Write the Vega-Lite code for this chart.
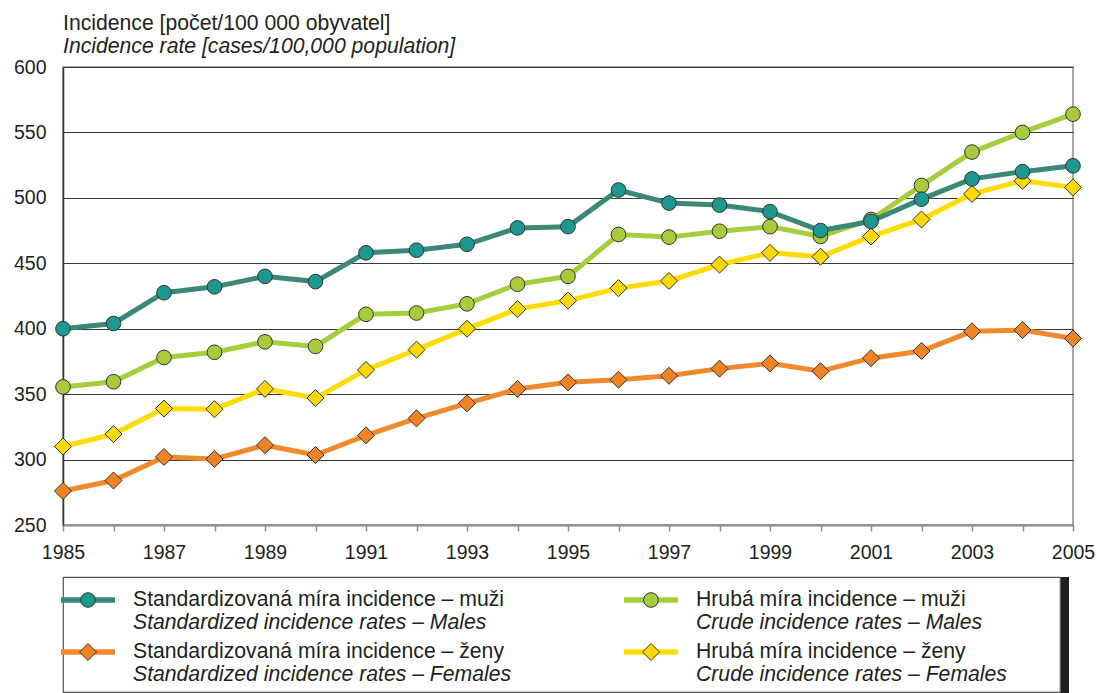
{
  "$schema": "https://vega.github.io/schema/vega-lite/v6.json",
  "padding": {"top": 11, "left": 12, "right": 3, "bottom": 0},
  "background": "white",
  "config": {
    "font": "Liberation Sans",
    "view": {"stroke": null},
    "concat": {"spacing": 13}
  },
  "datasets": {
    "series": [
      {"year": 1985, "key": "SF", "value": 276}, {"year": 1986, "key": "SF", "value": 284}, {"year": 1987, "key": "SF", "value": 302}, {"year": 1988, "key": "SF", "value": 300.5}, {"year": 1989, "key": "SF", "value": 311}, {"year": 1990, "key": "SF", "value": 303.5}, {"year": 1991, "key": "SF", "value": 318.5}, {"year": 1992, "key": "SF", "value": 331.5}, {"year": 1993, "key": "SF", "value": 343}, {"year": 1994, "key": "SF", "value": 354}, {"year": 1995, "key": "SF", "value": 359}, {"year": 1996, "key": "SF", "value": 361}, {"year": 1997, "key": "SF", "value": 364}, {"year": 1998, "key": "SF", "value": 369.5}, {"year": 1999, "key": "SF", "value": 373.5}, {"year": 2000, "key": "SF", "value": 367.5}, {"year": 2001, "key": "SF", "value": 377.5}, {"year": 2002, "key": "SF", "value": 383}, {"year": 2003, "key": "SF", "value": 398}, {"year": 2004, "key": "SF", "value": 399}, {"year": 2005, "key": "SF", "value": 392.5},
      {"year": 1985, "key": "CF", "value": 310}, {"year": 1986, "key": "CF", "value": 319.5}, {"year": 1987, "key": "CF", "value": 339}, {"year": 1988, "key": "CF", "value": 338.5}, {"year": 1989, "key": "CF", "value": 354}, {"year": 1990, "key": "CF", "value": 347}, {"year": 1991, "key": "CF", "value": 368.5}, {"year": 1992, "key": "CF", "value": 384}, {"year": 1993, "key": "CF", "value": 400}, {"year": 1994, "key": "CF", "value": 415}, {"year": 1995, "key": "CF", "value": 421.5}, {"year": 1996, "key": "CF", "value": 431}, {"year": 1997, "key": "CF", "value": 436.5}, {"year": 1998, "key": "CF", "value": 449}, {"year": 1999, "key": "CF", "value": 458}, {"year": 2000, "key": "CF", "value": 455}, {"year": 2001, "key": "CF", "value": 470.5}, {"year": 2002, "key": "CF", "value": 483.5}, {"year": 2003, "key": "CF", "value": 503}, {"year": 2004, "key": "CF", "value": 513}, {"year": 2005, "key": "CF", "value": 508},
      {"year": 1985, "key": "CM", "value": 355.5}, {"year": 1986, "key": "CM", "value": 359.5}, {"year": 1987, "key": "CM", "value": 378}, {"year": 1988, "key": "CM", "value": 382}, {"year": 1989, "key": "CM", "value": 390}, {"year": 1990, "key": "CM", "value": 386.5}, {"year": 1991, "key": "CM", "value": 411}, {"year": 1992, "key": "CM", "value": 412}, {"year": 1993, "key": "CM", "value": 419}, {"year": 1994, "key": "CM", "value": 434}, {"year": 1995, "key": "CM", "value": 440}, {"year": 1996, "key": "CM", "value": 472}, {"year": 1997, "key": "CM", "value": 470}, {"year": 1998, "key": "CM", "value": 474.5}, {"year": 1999, "key": "CM", "value": 478}, {"year": 2000, "key": "CM", "value": 470.5}, {"year": 2001, "key": "CM", "value": 483.5}, {"year": 2002, "key": "CM", "value": 509.5}, {"year": 2003, "key": "CM", "value": 535}, {"year": 2004, "key": "CM", "value": 550}, {"year": 2005, "key": "CM", "value": 564},
      {"year": 1985, "key": "SM", "value": 400}, {"year": 1986, "key": "SM", "value": 404}, {"year": 1987, "key": "SM", "value": 427.5}, {"year": 1988, "key": "SM", "value": 432}, {"year": 1989, "key": "SM", "value": 440}, {"year": 1990, "key": "SM", "value": 436}, {"year": 1991, "key": "SM", "value": 458}, {"year": 1992, "key": "SM", "value": 460}, {"year": 1993, "key": "SM", "value": 464.5}, {"year": 1994, "key": "SM", "value": 477}, {"year": 1995, "key": "SM", "value": 478}, {"year": 1996, "key": "SM", "value": 506}, {"year": 1997, "key": "SM", "value": 496}, {"year": 1998, "key": "SM", "value": 494.5}, {"year": 1999, "key": "SM", "value": 489.5}, {"year": 2000, "key": "SM", "value": 475}, {"year": 2001, "key": "SM", "value": 482}, {"year": 2002, "key": "SM", "value": 499}, {"year": 2003, "key": "SM", "value": 514.5}, {"year": 2004, "key": "SM", "value": 520}, {"year": 2005, "key": "SM", "value": 524.5}
    ],
    "legend": [
      {"key": "SM", "col": "a", "row": "r1", "line1": "Standardizovaná míra incidence – muži", "line2": "Standardized incidence rates – Males"},
      {"key": "SF", "col": "a", "row": "r2", "line1": "Standardizovaná míra incidence – ženy", "line2": "Standardized incidence rates – Females"},
      {"key": "CM", "col": "b", "row": "r1", "line1": "Hrubá míra incidence – muži", "line2": "Crude incidence rates – Males"},
      {"key": "CF", "col": "b", "row": "r2", "line1": "Hrubá míra incidence – ženy", "line2": "Crude incidence rates – Females"}
    ]
  },
  "vconcat": [
    {
      "title": {
        "text": "Incidence [počet/100 000 obyvatel]",
        "subtitle": "Incidence rate [cases/100,000 population]",
        "anchor": "start",
        "frame": "group",
        "offset": 0,
        "font": "Liberation Sans",
        "fontSize": 21.2,
        "fontWeight": "normal",
        "color": "#231f20",
        "subtitleFont": "Liberation Sans",
        "subtitleFontSize": 21.2,
        "subtitleFontStyle": "italic",
        "subtitleColor": "#231f20",
        "subtitlePadding": 2
      },
      "width": 1010,
      "height": 458,
      "view": {"stroke": "#8c8c8c", "strokeWidth": 1.5},
      "data": {"name": "series"},
      "encoding": {
        "x": {
          "field": "year", "type": "quantitative",
          "scale": {"domain": [1985, 2005], "nice": false, "zero": false},
          "axis": {
            "title": null,
            "values": [1985, 1986, 1987, 1988, 1989, 1990, 1991, 1992, 1993, 1994, 1995, 1996, 1997, 1998, 1999, 2000, 2001, 2002, 2003, 2004, 2005],
            "format": "d",
            "labelExpr": "datum.value % 2 == 1 ? datum.label : ''",
            "grid": false,
            "ticks": true,
            "tickSize": 6,
            "tickColor": "#8c8c8c",
            "tickWidth": 1.5,
            "domainColor": "#8c8c8c",
            "domainWidth": 2,
            "labelPadding": 12,
            "labelFontSize": 19.5,
            "labelColor": "#231f20",
            "labelFlush": false,
            "labelOverlap": false
          }
        },
        "y": {
          "field": "value", "type": "quantitative",
          "scale": {"domain": [250, 600], "nice": false, "zero": false},
          "axis": {
            "title": null,
            "values": [250, 300, 350, 400, 450, 500, 550, 600],
            "ticks": false,
            "labelPadding": 17,
            "labelFontSize": 19.5,
            "labelColor": "#231f20",
            "domainColor": "#333333",
            "domainWidth": 1.5,
            "grid": true,
            "gridColor": "#3a3a3a",
            "gridWidth": 1
          }
        }
      },
      "layer": [
        {
          "mark": {"type": "line", "strokeWidth": 5},
          "encoding": {
            "stroke": {"field": "key", "type": "nominal", "legend": null,
              "scale": {"domain": ["SF", "CF", "CM", "SM"], "range": ["#f08a2c", "#ffdc00", "#a6cd3c", "#3b8877"]}}
          }
        },
        {
          "transform": [{"filter": "datum.key == 'SF' || datum.key == 'CF'"}],
          "mark": {"type": "point", "shape": "diamond", "filled": true, "size": 290, "stroke": "#333333", "strokeWidth": 1, "opacity": 1},
          "encoding": {
            "fill": {"field": "key", "type": "nominal", "legend": null,
              "scale": {"domain": ["SF", "CF", "CM", "SM"], "range": ["#f08423", "#ffd800", "#a8cb3b", "#1c9891"]}}
          }
        },
        {
          "transform": [{"filter": "datum.key == 'CM' || datum.key == 'SM'"}],
          "mark": {"type": "point", "shape": "circle", "filled": true, "size": 215, "stroke": "#333333", "strokeWidth": 1, "opacity": 1},
          "encoding": {
            "fill": {"field": "key", "type": "nominal", "legend": null,
              "scale": {"domain": ["SF", "CF", "CM", "SM"], "range": ["#f08423", "#ffd800", "#a8cb3b", "#1c9891"]}}
          }
        }
      ]
    },
    {
      "spacing": 0,
      "hconcat": [
        {
          "width": 997,
          "height": 115,
          "view": {"stroke": "#555555", "strokeWidth": 1.2, "fill": "white"},
          "data": {"name": "legend"},
          "encoding": {
            "x": {"field": "col", "type": "nominal", "axis": null, "scale": {"domain": ["a", "b"], "range": [25, 588], "padding": 0}},
            "y": {"field": "row", "type": "nominal", "axis": null, "scale": {"domain": ["r1", "r2"], "range": [23, 75], "padding": 0}}
          },
          "layer": [
            {
              "mark": {"type": "point", "shape": "M-1,0L1,0", "filled": false, "size": 2916, "strokeWidth": 5.5, "opacity": 1},
              "encoding": {
                "stroke": {"field": "key", "type": "nominal", "legend": null,
                  "scale": {"domain": ["SF", "CF", "CM", "SM"], "range": ["#f08a2c", "#ffdc00", "#a6cd3c", "#3b8877"]}}
              }
            },
            {
              "transform": [{"filter": "datum.key == 'SF' || datum.key == 'CF'"}],
              "mark": {"type": "point", "shape": "diamond", "filled": true, "size": 290, "stroke": "#333333", "strokeWidth": 1, "opacity": 1},
              "encoding": {
                "fill": {"field": "key", "type": "nominal", "legend": null,
                  "scale": {"domain": ["SF", "CF", "CM", "SM"], "range": ["#f08423", "#ffd800", "#a8cb3b", "#1c9891"]}}
              }
            },
            {
              "transform": [{"filter": "datum.key == 'CM' || datum.key == 'SM'"}],
              "mark": {"type": "point", "shape": "circle", "filled": true, "size": 215, "stroke": "#333333", "strokeWidth": 1, "opacity": 1},
              "encoding": {
                "fill": {"field": "key", "type": "nominal", "legend": null,
                  "scale": {"domain": ["SF", "CF", "CM", "SM"], "range": ["#f08423", "#ffd800", "#a8cb3b", "#1c9891"]}}
              }
            },
            {
              "mark": {"type": "text", "align": "left", "baseline": "middle", "dx": 45, "fontSize": 21.2, "color": "#231f20", "font": "Liberation Sans"},
              "encoding": {"text": {"field": "line1"}}
            },
            {
              "mark": {"type": "text", "align": "left", "baseline": "middle", "dx": 45, "dy": 23, "fontSize": 21.2, "fontStyle": "italic", "color": "#231f20", "font": "Liberation Sans"},
              "encoding": {"text": {"field": "line2"}}
            }
          ]
        },
        {
          "width": 8,
          "height": 118,
          "view": {"fill": "#231f20", "stroke": null},
          "data": {"values": [{"k": 1}]},
          "mark": {"type": "point", "opacity": 0},
          "encoding": {}
        }
      ]
    }
  ]
}
